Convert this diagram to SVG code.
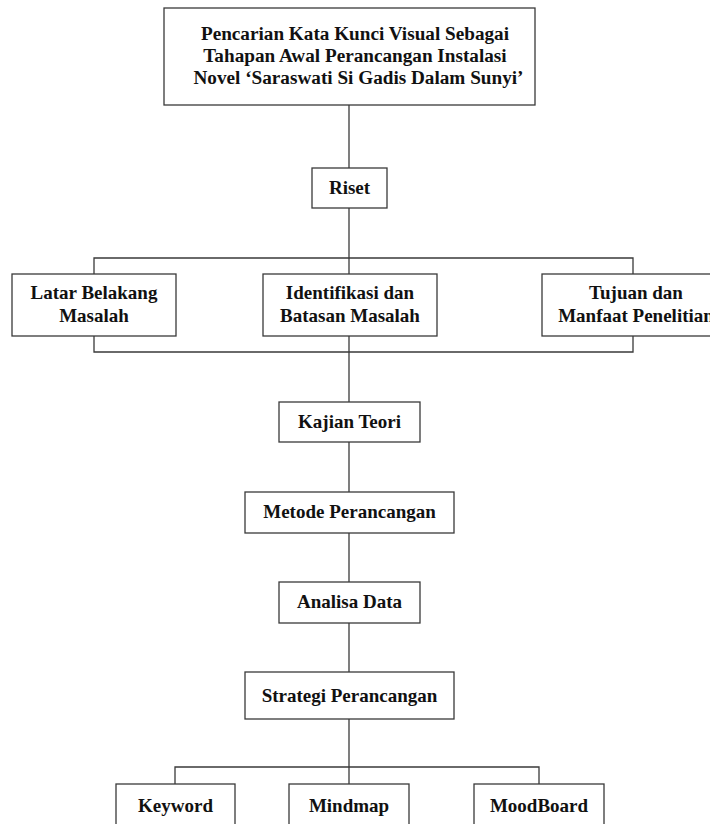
<svg xmlns="http://www.w3.org/2000/svg" width="710" height="824" viewBox="0 0 710 824">
<style>
.box{fill:#fff;stroke:#3a3a3a;stroke-width:1.3}
.ln{fill:none;stroke:#3a3a3a;stroke-width:1.3}
text{font-family:"Liberation Serif","Times New Roman",serif;font-weight:bold;font-size:19px;fill:#111;text-anchor:middle}
.t{font-size:19.2px}
</style>
<rect width="710" height="824" fill="#fff"/>
<g id="connectors">
<path class="ln" d="M349,105 V168"/>
<path class="ln" d="M349,208 V274"/>
<path class="ln" d="M94,274 V258 H633 V274"/>
<path class="ln" d="M94,336 V352 H633 V336"/>
<path class="ln" d="M349,336 V402"/>
<path class="ln" d="M349,442 V492"/>
<path class="ln" d="M349,533 V582"/>
<path class="ln" d="M349,623 V672"/>
<path class="ln" d="M349,719 V784"/>
<path class="ln" d="M175,784 V767 H539 V784"/>
</g>
<g id="title">
<rect class="box" x="164" y="8" width="371" height="97"/>
<text class="t" x="355" y="39.5">Pencarian Kata Kunci Visual Sebagai</text>
<text class="t" x="355" y="61.5">Tahapan Awal Perancangan Instalasi</text>
<text class="t" x="358.5" y="84">Novel ‘Saraswati Si Gadis Dalam Sunyi’</text>
</g>
<g id="riset">
<rect class="box" x="312" y="168" width="75" height="40"/>
<text x="349.5" y="194">Riset</text>
</g>
<g id="latar">
<rect class="box" x="12" y="274" width="164" height="62"/>
<text x="94" y="299">Latar Belakang</text>
<text x="94" y="322">Masalah</text>
</g>
<g id="identifikasi">
<rect class="box" x="263" y="274" width="174" height="62"/>
<text x="350" y="299">Identifikasi dan</text>
<text x="350" y="322">Batasan Masalah</text>
</g>
<g id="tujuan">
<rect class="box" x="542" y="274" width="188" height="62"/>
<text x="636" y="299">Tujuan dan</text>
<text x="636" y="322">Manfaat Penelitian</text>
</g>
<g id="kajian">
<rect class="box" x="279" y="402" width="141" height="40"/>
<text x="349.5" y="428">Kajian Teori</text>
</g>
<g id="metode">
<rect class="box" x="245" y="492" width="209" height="41"/>
<text x="349.5" y="518">Metode Perancangan</text>
</g>
<g id="analisa">
<rect class="box" x="279" y="582" width="141" height="41"/>
<text x="349.5" y="608">Analisa Data</text>
</g>
<g id="strategi">
<rect class="box" x="245" y="672" width="209" height="47"/>
<text x="349.5" y="702">Strategi Perancangan</text>
</g>
<g id="keyword">
<rect class="box" x="116" y="784" width="119" height="60"/>
<text x="175.5" y="812">Keyword</text>
</g>
<g id="mindmap">
<rect class="box" x="289" y="784" width="120" height="60"/>
<text x="349" y="812">Mindmap</text>
</g>
<g id="moodboard">
<rect class="box" x="474" y="784" width="130" height="60"/>
<text x="539" y="812">MoodBoard</text>
</g>
</svg>
